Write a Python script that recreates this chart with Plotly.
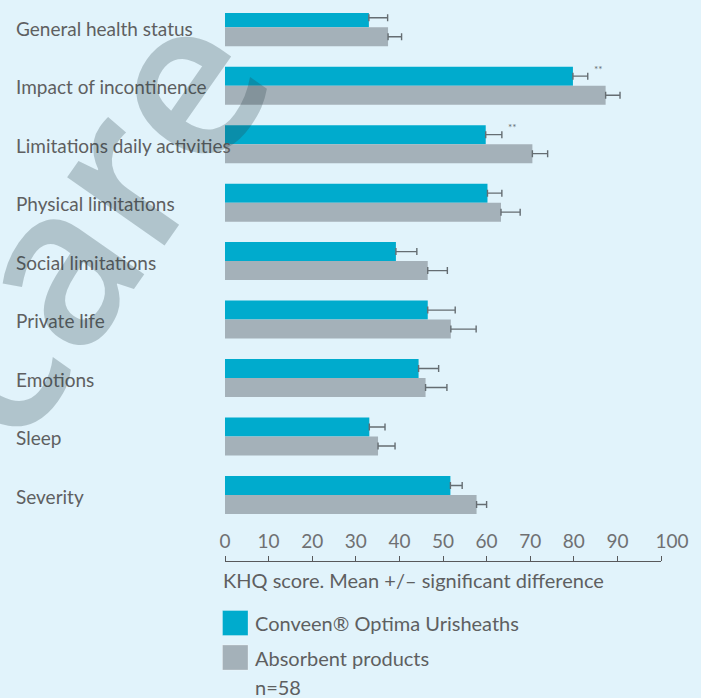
import plotly.graph_objects as go

# ---------------- data ----------------
categories = [
    "General health status",
    "Impact of incontinence",
    "Limitations daily activities",
    "Physical limitations",
    "Social limitations",
    "Private life",
    "Emotions",
    "Sleep",
    "Severity",
]
conveen = [33.0, 79.8, 59.8, 60.2, 39.2, 46.5, 44.4, 33.1, 51.7]
conveen_err = [4.3, 3.4, 3.7, 3.3, 4.8, 6.3, 4.6, 3.6, 2.7]
absorbent = [37.4, 87.3, 70.5, 63.3, 46.5, 51.8, 46.0, 35.1, 57.7]
absorbent_err = [3.1, 3.3, 3.5, 4.4, 4.5, 5.8, 4.9, 3.9, 2.3]
significance = ["", "**", "**", "", "", "", "", "", ""]
x_ticks = [0, 10, 20, 30, 40, 50, 60, 70, 80, 90, 100]
x_tick_labels = ["0", "10", "20", "30", "40", "50", "60", "70", "80", "90", "\u2007\u2007100"]
series_names = ["Conveen® Optima Urisheaths", "Absorbent products"]
axis_title = "KHQ score. Mean +/– significant difference"
sample_note = "n=58"
watermark = "care"

# ---------------- style ----------------
BG = "#e1f3fb"
BLUE = "#00abcd"
GREY = "#a4b1b9"
TEXT = "#5e5f61"
ERR = "#656d72"
FONT = "Lato"

W, H = 701, 698
L, R, T, B = 225, 40, 13, 137
PW, PH = W - L - R, H - T - B


def px_x(p):
    return (p - L) / PW


def px_y(p):
    return (H - B - p) / PH


fig = go.Figure()
fig.add_trace(go.Bar(
    y=categories, x=conveen, orientation="h", name=series_names[0],
    marker=dict(color=BLUE, line=dict(width=0)),
    error_x=dict(type="data", symmetric=False, array=conveen_err,
                 arrayminus=[0] * len(conveen), color=ERR, thickness=1.4, width=3.5),
    showlegend=False, hoverinfo="x+y",
))
fig.add_trace(go.Bar(
    y=categories, x=absorbent, orientation="h", name=series_names[1],
    marker=dict(color=GREY, line=dict(width=0)),
    error_x=dict(type="data", symmetric=False, array=absorbent_err,
                 arrayminus=[0] * len(absorbent), color=ERR, thickness=1.4, width=3.5),
    showlegend=False, hoverinfo="x+y",
))

annotations = []
# left-aligned category labels
for c in categories:
    annotations.append(dict(
        x=px_x(14), xref="paper", y=c, yref="y", yshift=-1, text=c, showarrow=False,
        xanchor="left", yanchor="middle", font=dict(family=FONT, size=19, color=TEXT),
    ))
# significance markers
for c, v, e, s in zip(categories, conveen, conveen_err, significance):
    if s:
        annotations.append(dict(
            x=v + e + 2.5, xref="x", y=c, yref="y", yshift=17, text=s,
            showarrow=False, xanchor="center", yanchor="middle",
            font=dict(family=FONT, size=10, color=ERR),
        ))
# axis title
annotations.append(dict(
    x=px_x(221), xref="paper", y=px_y(580), yref="paper", text=axis_title,
    showarrow=False, xanchor="left", yanchor="middle",
    font=dict(family=FONT, size=20, color=TEXT),
))
# legend texts
legend_rows = [(series_names[0], 623, BLUE), (series_names[1], 657.5, GREY)]
shapes = []
for name, yc, col in legend_rows:
    annotations.append(dict(
        x=px_x(253), xref="paper", y=px_y(yc), yref="paper", text=name,
        showarrow=False, xanchor="left", yanchor="middle",
        font=dict(family=FONT, size=20, color=TEXT),
    ))
    shapes.append(dict(
        type="rect", xref="paper", yref="paper",
        x0=px_x(222.5), x1=px_x(248), y0=px_y(yc - 12.5), y1=px_y(yc + 12.5),
        fillcolor=col, line=dict(width=0.8, color="rgba(255,255,255,0.35)"),
    ))
annotations.append(dict(
    x=px_x(253), xref="paper", y=px_y(687), yref="paper", text=sample_note,
    showarrow=False, xanchor="left", yanchor="middle",
    font=dict(family=FONT, size=20, color=TEXT),
))
# watermark (partially outside the picture, as in the reference)
annotations.append(dict(
    x=px_x(80), xref="paper", y=px_y(218), yref="paper", text=watermark,
    showarrow=False, xanchor="center", yanchor="middle", textangle=-55,
    font=dict(family="Open Sans", size=220, color="rgba(40,60,70,0.26)", weight=600),
))

fig.update_layout(
    width=W, height=H, autosize=False,
    margin=dict(l=L, r=R, t=T, b=B, pad=0),
    paper_bgcolor=BG, plot_bgcolor=BG,
    barmode="group", bargap=0.35, bargroupgap=0,
    showlegend=False,
    font=dict(family=FONT, color=TEXT),
    xaxis=dict(
        range=[0, 100], tickvals=x_ticks, ticktext=x_tick_labels,
        side="top", anchor="free", position=0,
        showline=True, linecolor="#58595b", linewidth=1.3,
        ticks="outside", ticklen=5, tickwidth=1.2, tickcolor="#58595b",
        showgrid=False, zeroline=False,
        tickfont=dict(family=FONT, size=19, color="#6f7072"),
    ),
    yaxis=dict(
        type="category", categoryorder="array", categoryarray=categories,
        range=[8 + 66 / 58.5, -14.2 / 58.5],
        showticklabels=False, showgrid=False, zeroline=False, showline=False,
        ticks="",
    ),
    annotations=annotations,
    shapes=shapes,
)

fig.write_html("out.html")
